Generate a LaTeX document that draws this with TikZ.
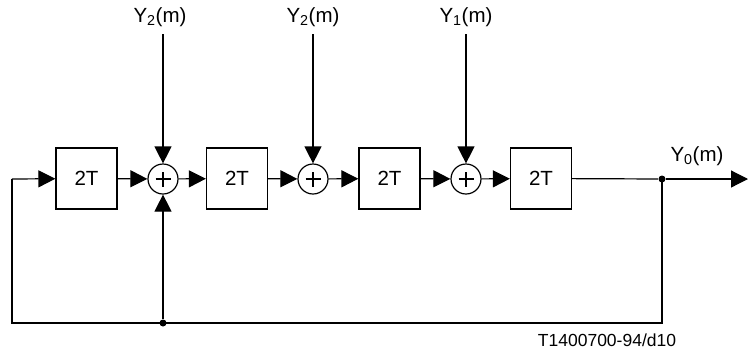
\documentclass[tikz,border=0pt]{standalone}
\usepackage{fontspec}
\setmainfont{Liberation Sans}
\usetikzlibrary{arrows.meta}
\begin{document}
\begin{tikzpicture}[x=1pt,y=-1pt,
  line width=1.2pt,
  delay/.style={draw, minimum width=61pt, minimum height=61pt, inner sep=0pt, font=\fontsize{20.5}{22}\selectfont},
  summer/.style={draw, circle, minimum size=30pt, inner sep=0pt,
    path picture={\draw[line width=1.2pt] ([xshift=-7.5pt]path picture bounding box.center) -- ([xshift=7.5pt]path picture bounding box.center);
                  \draw[line width=1.2pt] ([yshift=-7.5pt]path picture bounding box.center) -- ([yshift=7.5pt]path picture bounding box.center);}},
  sig/.style={-{Triangle[length=17pt,width=17pt]}},
  lbl/.style={font=\fontsize{20.5}{22}\selectfont, inner sep=0pt},
  dot/.style={circle, fill, minimum size=7pt, inner sep=0pt}]
\useasboundingbox (0,0) rectangle (748,349);
\node[delay] (b1) at (86.5,178.5) {2T};
\node[delay] (b2) at (237,178.5) {2T};
\node[delay] (b3) at (389.5,178.5) {2T};
\node[delay] (b4) at (541,178.5) {2T};
\node[summer] (s1) at (163,179) {};
\node[summer] (s2) at (313,179) {};
\node[summer] (s3) at (466,179) {};
\node[dot] (j) at (662,179) {};
\node[dot] (k) at (163,323) {};
\coordinate (out) at (748,179);
\coordinate (jb) at (662,323);
\coordinate (lb) at (12,323);
\coordinate (lt) at (12,179);
\coordinate (i1) at (163,34);
\coordinate (i2) at (313,34);
\coordinate (i3) at (466,34);
\node[lbl, anchor=south] (y1) at (160,27) {Y\textsubscript{2}(m)};
\node[lbl, anchor=south] (y2) at (313,27) {Y\textsubscript{2}(m)};
\node[lbl, anchor=south] (y3) at (466,27) {Y\textsubscript{1}(m)};
\node[lbl] (y0) at (697,156) {Y\textsubscript{0}(m)};
\node[lbl, font=\fontsize{17.5}{19}\selectfont] (tag) at (607,340) {T1400700-94/d10};
\draw[sig] (b1) -- (s1);
\draw[sig] (s1) -- (b2);
\draw[sig] (b2) -- (s2);
\draw[sig] (s2) -- (b3);
\draw[sig] (b3) -- (s3);
\draw[sig] (s3) -- (b4);
\draw (b4) -- (j);
\draw[sig] (j) -- (out);
\draw[sig] (i1) -- (s1);
\draw[sig] (i2) -- (s2);
\draw[sig] (i3) -- (s3);
\draw (j.center) -- (jb) -- (k.center) -- (lb) -- (lt);
\draw[sig] (lt) -- (b1);
\draw[sig] (k) -- (s1);
\end{tikzpicture}
\end{document}
